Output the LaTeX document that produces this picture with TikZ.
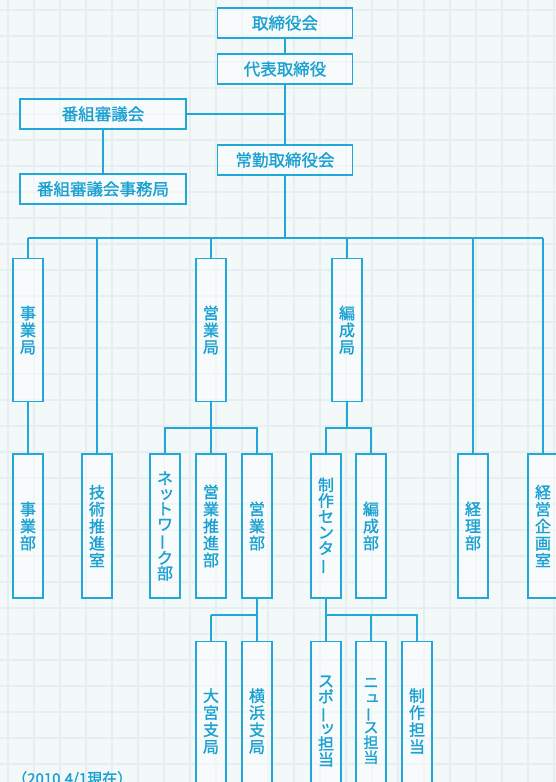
\documentclass[tikz,border=0pt]{standalone}
\usepackage{fontspec}
\usepackage{graphicx}
\newfontfamily\jp[FakeBold=1.2]{Noto Sans CJK JP}
\definecolor{orgblue}{RGB}{34,168,216}
\definecolor{orgtext}{RGB}{26,160,210}
\definecolor{bgc}{RGB}{243,248,249}
\definecolor{gridc}{RGB}{231,238,240}
\newcommand{\vbar}{\rotatebox[origin=c]{90}{ー}}
\newcommand{\sk}[1]{\hspace*{3pt}\raisebox{1pt}{#1}}
\begin{document}
\begin{tikzpicture}[x=1pt,y=-1pt,
  conn/.style={draw=orgblue, line width=1.2pt},
  boxbase/.style={draw=orgblue, line width=1.3pt, fill=white, fill opacity=0.45, text opacity=1, text=orgtext, inner sep=0pt},
  hbox/.style={boxbase, font=\jp\fontsize{16.5}{17}\selectfont, minimum height=30pt},
  vbox/.style={boxbase, font=\jp\fontsize{16}{17}\selectfont, minimum width=30pt, text width=30pt, align=center},
  lvA/.style={vbox, minimum height=143pt},
  lvB/.style={vbox, minimum height=144pt},
  lvC/.style={vbox, minimum height=159pt, anchor=north},
  note/.style={text=orgtext, font=\jp\fontsize{15}{15}\selectfont, inner sep=0pt, anchor=base west}
]
\useasboundingbox (0,0) rectangle (556,782);
\clip (0,0) rectangle (556,782);
\fill[bgc] (0,0) rectangle (556,782);
\foreach \i in {0,...,22} {\draw[gridc, line width=1.4pt] (\i*26+8,0) -- ++(0,782);}
\foreach \j in {0,...,30} {\draw[gridc, line width=1.4pt] (0,\j*26+10) -- ++(556,0);}

% top level
\node[hbox, minimum width=135pt] (torishimari) at (285,23) {取締役会};
\node[hbox, minimum width=135pt] (daihyo) at (285,69) {代表取締役};
\node[hbox, minimum width=166pt] (bangumi) at (103,114) {番組審議会};
\node[hbox, minimum width=135pt] (jokin) at (285,160) {常勤取締役会};
\node[hbox, minimum width=166pt] (jimukyoku) at (103,189) {番組審議会事務局};

\draw[conn] (torishimari) -- (daihyo);
\draw[conn] (daihyo) -- (jokin);
\draw[conn] (bangumi.east) -- (bangumi.east -| daihyo.south);
\draw[conn] (bangumi) -- (jimukyoku);

% level 1
\node[lvA] (jigyokyoku) at (28,330) {事\\業\\局};
\node[lvA] (eigyokyoku) at (211,330) {営\\業\\局};
\node[lvA] (henseikyoku) at (347,330) {編\\成\\局};

% level 2
\node[lvB] (jigyobu) at (28,526) {事\\業\\部};
\node[lvB] (gijutsu) at (97,526) {技\\術\\推\\進\\室};
\node[lvB, font=\jp\fontsize{16}{15.3}\selectfont] (network) at (165,526) {ネ\\\sk{ッ}\\ト\\ワ\\\vbar\\ク\\部};
\node[lvB] (eigyosuishin) at (211,526) {営\\業\\推\\進\\部};
\node[lvB] (eigyobu) at (257,526) {営\\業\\部};
\node[lvB, font=\jp\fontsize{16}{15.8}\selectfont] (seisaku) at (326,526) {制\\作\\セ\\ン\\タ\\\vbar};
\node[lvB] (henseibu) at (371,526) {編\\成\\部};
\node[lvB] (keiri) at (473,526) {経\\理\\部};
\node[lvB] (keiei) at (543,526) {経\\営\\企\\画\\室};

% level 3
\node[lvC] (omiya) at (211,641) {大\\宮\\支\\局};
\node[lvC] (yokohama) at (257,641) {横\\浜\\支\\局};
\node[lvC, font=\jp\fontsize{16}{15.7}\selectfont] (sports) at (326,641) {ス\\ポ\\\vbar\\\sk{ッ}\\担\\当};
\node[lvC, font=\jp\fontsize{15}{15}\selectfont] (news) at (371,641) {ニ\\\sk{ュ}\\\vbar\\ス\\担\\当};
\node[lvC] (seisakutanto) at (417,641) {制\\作\\担\\当};

% main bus
\coordinate (busY) at (285,238);
\draw[conn] (jokin) -- (jokin.south |- busY);
\draw[conn] (jigyokyoku.north |- busY) -- (keiei.north |- busY);
\foreach \n in {jigyokyoku,gijutsu,eigyokyoku,henseikyoku,keiri,keiei}
  {\draw[conn] (\n.north) -- (\n.north |- busY);}
\draw[conn] (jigyokyoku) -- (jigyobu);

% eigyo sub bus
\coordinate (busE) at (211,428);
\draw[conn] (eigyokyoku) -- (eigyosuishin);
\draw[conn] (network.north) -- (network.north |- busE) -- (eigyobu.north |- busE) -- (eigyobu.north);

% hensei sub bus
\coordinate (busH) at (347,428);
\draw[conn] (henseikyoku.south) -- (busH);
\draw[conn] (seisaku.north) -- (seisaku.north |- busH) -- (henseibu.north |- busH) -- (henseibu.north);

% level 3 buses
\coordinate (busS) at (257,615);
\draw[conn] (eigyobu) -- (yokohama);
\draw[conn] (omiya.north) -- (omiya.north |- busS);
\draw[conn] (omiya.north |- busS) -- (busS);
\draw[conn] (seisaku) -- (sports);
\draw[conn] (sports.north |- busS) -- (seisakutanto.north |- busS) -- (seisakutanto.north);
\draw[conn] (news.north) -- (news.north |- busS);

\node[note] (date) at (12,784) {（2010.4/1現在）};
\end{tikzpicture}
\end{document}
